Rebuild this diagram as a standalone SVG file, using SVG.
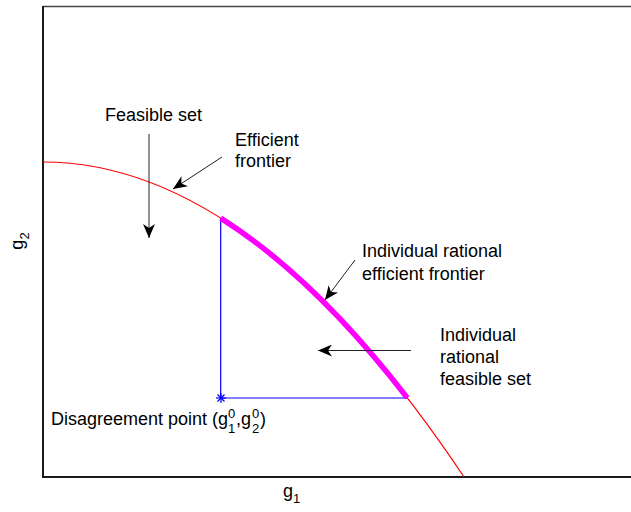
<svg xmlns="http://www.w3.org/2000/svg" width="631" height="512" viewBox="0 0 631 512">
<style>
text{font-family:"Liberation Sans",Arial,sans-serif;font-size:18px;fill:#000}
.s{font-size:13px}
.ax{stroke:#1a1a1a;stroke-width:2;fill:none}
.arr{stroke:#222;stroke-width:1;fill:none;marker-end:url(#ah)}
</style>
<defs>
<marker id="ah" viewBox="0 0 14 12" refX="14" refY="6" markerWidth="14" markerHeight="12" markerUnits="userSpaceOnUse" orient="auto">
<path d="M0,0 L14,6 L0,12 L4,6 Z" fill="#000"/>
</marker>
</defs>
<rect width="631" height="512" fill="#fff"/>
<g id="axes">
<line x1="43" y1="6.5" x2="631" y2="6.5" stroke="#444" stroke-width="1.5"/>
<line class="ax" x1="43" y1="6" x2="43" y2="477"/>
<line class="ax" x1="42" y1="477" x2="631" y2="477"/>
<text x="283" y="497">g<tspan class="s" dy="6">1</tspan></text>
<text transform="translate(23,241) rotate(-90)" text-anchor="middle">g<tspan class="s" dy="6">2</tspan></text>
</g>
<g id="frontier">
<path d="M43,162 Q253.5,162 464,477" stroke="#ff0000" stroke-width="1.2" fill="none"/>
</g>
<g id="ir-box">
<path d="M220.7,218.1 L220.7,398 L407.3,398" stroke="#0000ff" stroke-width="1.2" fill="none"/>
</g>
<g id="ir-frontier">
<path d="M220.7,218.1 Q314,277.05 407.3,397.9" stroke="#ff00ff" stroke-width="5.5" fill="none"/>
</g>
<g id="disagreement-point" stroke="#0000ff" stroke-width="1.2">
<line x1="221" y1="393" x2="221" y2="403"/>
<line x1="216" y1="398" x2="226" y2="398"/>
<line x1="217.5" y1="394.5" x2="224.5" y2="401.5"/>
<line x1="217.5" y1="401.5" x2="224.5" y2="394.5"/>
</g>
<g id="connectors">
<line class="arr" x1="149" y1="134" x2="149" y2="238"/>
<line class="arr" x1="222" y1="157" x2="173" y2="189"/>
<line class="arr" x1="355" y1="260" x2="325" y2="300"/>
<line class="arr" x1="411" y1="350.5" x2="318" y2="350.5"/>
</g>
<g id="label-feasible"><text x="105" y="121">Feasible set</text></g>
<g id="label-efficient"><text x="235" y="146">Efficient</text><text x="235" y="167">frontier</text></g>
<g id="label-ir-frontier"><text x="362" y="257">Individual rational</text><text x="362" y="280">efficient frontier</text></g>
<g id="label-ir-set"><text x="440" y="341">Individual</text><text x="440" y="363">rational</text><text x="440" y="385">feasible set</text></g>
<g id="label-dp"><text x="51" y="425">Disagreement point (g</text><text class="s" x="228" y="433">1</text><text class="s" x="228" y="418">0</text><text x="236" y="425">,g</text><text class="s" x="252" y="433">2</text><text class="s" x="252" y="418">0</text><text x="260" y="425">)</text></g>
</svg>
